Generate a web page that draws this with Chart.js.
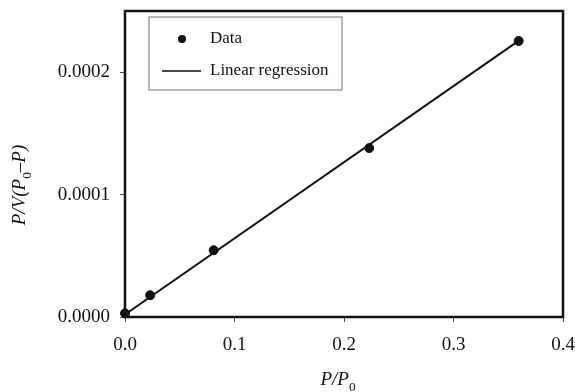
<!DOCTYPE html>
<html>
<head>
<meta charset="utf-8">
<script src="https://cdn.jsdelivr.net/npm/chart.js@4"></script>
<style>
  html, body { margin: 0; padding: 0; background: #fff; }
</style>
</head>
<body>
<canvas id="chart" width="575" height="392"></canvas>
<script>
// values
const dataX = [0.0, 0.023, 0.081, 0.223, 0.3595];
const dataY = [0.000003, 0.0000178, 0.0000545, 0.000138, 0.0002255];
const regX = [0.0, 0.36];
const regY = [0.000002, 0.000226];
const xTicks = [0.0, 0.1, 0.2, 0.3, 0.4];
const yTicks = [0.0000, 0.0001, 0.0002];
const seriesNames = ['Data', 'Linear regression'];

const serif = '"Liberation Serif", "Times New Roman", serif';

// draw text made of pieces (italic / subscript), centered on 0,0
function drawRuns(ctx, runs, size) {
    let total = 0;
    runs.forEach(r => {
        ctx.font = (r.italic ? 'italic ' : '') + (r.sub ? size * 0.7 : size) + 'px ' + serif;
        r.w = ctx.measureText(r.t).width;
        total += r.w;
    });
    let x = -total / 2;
    ctx.textAlign = 'left';
    ctx.textBaseline = 'alphabetic';
    runs.forEach(r => {
        ctx.font = (r.italic ? 'italic ' : '') + (r.sub ? size * 0.7 : size) + 'px ' + serif;
        ctx.fillText(r.t, x, r.sub ? size * 0.3 : 0);
        x += r.w;
    });
}

const framePlugin = {
    id: 'frame',
    beforeDatasetsDraw(chart) {
        const {ctx, chartArea: a} = chart;
        ctx.save();
        ctx.strokeStyle = '#111';
        ctx.lineWidth = 2.5;
        ctx.strokeRect(a.left, a.top, a.right - a.left, a.bottom - a.top);
        ctx.restore();
    }
};

const boxLegend = {
    id: 'boxLegend',
    afterDraw(chart) {
        const ctx = chart.ctx;
        const a = chart.chartArea;
        const bx = a.left + 24, by = a.top + 6, bw = 193, bh = 73;
        ctx.save();
        ctx.fillStyle = '#fff';
        ctx.fillRect(bx, by, bw, bh);
        ctx.strokeStyle = '#888';
        ctx.lineWidth = 1.2;
        ctx.strokeRect(bx, by, bw, bh);

        ctx.fillStyle = '#111';
        ctx.beginPath();
        ctx.arc(bx + 33, by + 22, 4, 0, Math.PI * 2);
        ctx.fill();
        ctx.strokeStyle = '#111';
        ctx.lineWidth = 1.6;
        ctx.beginPath();
        ctx.moveTo(bx + 13, by + 54);
        ctx.lineTo(bx + 52, by + 54);
        ctx.stroke();

        ctx.font = '17px ' + serif;
        ctx.fillStyle = '#111';
        ctx.textAlign = 'left';
        ctx.textBaseline = 'middle';
        ctx.fillText(seriesNames[0], bx + 61, by + 22);
        ctx.fillText(seriesNames[1], bx + 61, by + 54);
        ctx.restore();
    }
};

const axisTitles = {
    id: 'axisTitles',
    afterDraw(chart) {
        const ctx = chart.ctx;
        const a = chart.chartArea;
        ctx.save();
        ctx.fillStyle = '#111';
        // x title
        ctx.translate((a.left + a.right) / 2 - 6, 385);
        drawRuns(ctx, [{t: 'P', italic: true}, {t: '/', italic: true}, {t: 'P', italic: true}, {t: '0', sub: true}], 19);
        ctx.restore();

        ctx.save();
        ctx.fillStyle = '#111';
        ctx.translate(25, 185);
        ctx.rotate(-Math.PI / 2);
        drawRuns(ctx, [{t: 'P/V(P', italic: true}, {t: '0', sub: true}, {t: '\u2013P)', italic: true}], 19);
        ctx.restore();
    }
};

const ctx = document.getElementById('chart').getContext('2d');

new Chart(ctx, {
    type: 'scatter',
    data: {
        datasets: [{
            label: seriesNames[0],
            data: dataX.map((x, i) => ({x: x, y: dataY[i]})),
            backgroundColor: '#111',
            borderColor: '#111',
            pointRadius: 4.5,
            pointHoverRadius: 4.5,
            clip: false,
            order: 0
        }, {
            label: seriesNames[1],
            data: regX.map((x, i) => ({x: x, y: regY[i]})),
            showLine: true,
            borderColor: '#111',
            borderWidth: 2,
            pointRadius: 0,
            clip: false,
            order: 1
        }]
    },
    options: {
        responsive: false,
        animation: false,
        devicePixelRatio: 1,
        layout: { padding: { top: 11, right: 12, left: 0, bottom: 0 } },
        plugins: {
            legend: { display: false },
            tooltip: { enabled: false }
        },
        scales: {
            x: {
                type: 'linear',
                min: 0,
                max: 0.4,
                afterBuildTicks: s => { s.ticks = xTicks.map(v => ({value: v})); },
                afterFit: s => { s.height = 75; s.paddingLeft = 0; s.paddingRight = 0; },
                border: { display: false },
                grid: { drawOnChartArea: false, drawTicks: true, tickLength: 5, color: '#444', tickWidth: 1 },
                ticks: {
                    color: '#111',
                    padding: 12,
                    font: { family: serif, size: 19 },
                    callback: v => v.toFixed(1)
                }
            },
            y: {
                type: 'linear',
                min: 0,
                max: 0.00025,
                afterBuildTicks: s => { s.ticks = yTicks.map(v => ({value: v})); },
                afterFit: s => { s.width = 125; s.paddingTop = 0; s.paddingBottom = 0; },
                border: { display: false },
                grid: { drawOnChartArea: false, drawTicks: true, tickLength: 5, color: '#444', tickWidth: 1 },
                ticks: {
                    color: '#111',
                    padding: 10,
                    font: { family: serif, size: 19 },
                    callback: v => v.toFixed(4)
                }
            }
        }
    },
    plugins: [framePlugin, boxLegend, axisTitles]
});
</script>
</body>
</html>
